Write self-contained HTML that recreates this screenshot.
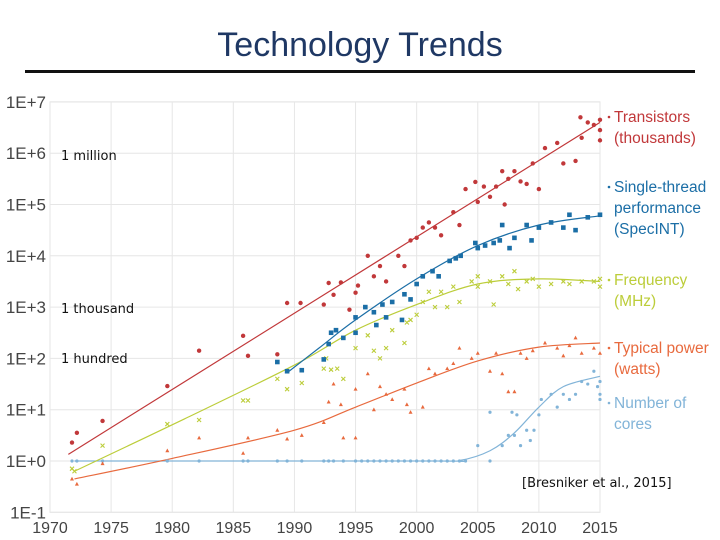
<!DOCTYPE html>
<html><head><meta charset="utf-8"><style>
body{margin:0;width:720px;height:540px;background:#fff;overflow:hidden;font-family:"Liberation Sans",sans-serif}
#title{position:absolute;left:0;width:720px;top:26px;text-align:center;font-size:34px;color:#1f3864}
#rule{position:absolute;left:25px;top:70px;width:670px;height:3px;background:#111}
svg{position:absolute;left:0;top:0}
</style></head><body>
<div id="title">Technology Trends</div>
<div id="rule"></div>
<svg id="chart" width="720" height="540"></svg>
<script>
const yearTicks=[1970,1975,1980,1985,1990,1995,2000,2005,2010,2015];
const decadeTicks=[-1,0,1,2,3,4,5,6,7];
const transistorPts=[[1971.8,0.36],[1972.2,0.55],[1974.3,0.78],[1979.6,1.46],[1982.2,2.15],[1985.8,2.44],[1986.2,2.05],[1988.6,2.08],[1989.4,3.08],[1990.5,3.08],[1992.4,3.05],[1992.8,3.47],[1993.2,3.24],[1993.8,3.48],[1994.5,2.95],[1995,3.28],[1995.2,3.42],[1996,4.0],[1996.5,3.6],[1997,3.8],[1997.5,3.5],[1998.5,4.0],[1999,3.8],[1999.5,4.3],[2000,4.35],[2000.5,4.55],[2001,4.65],[2001.5,4.55],[2002,4.4],[2003,4.85],[2003.5,4.6],[2004,5.3],[2004.8,5.44],[2005,5.05],[2005.5,5.35],[2006,5.15],[2006.5,5.35],[2007,5.65],[2007.2,5.0],[2007.5,5.5],[2008,5.65],[2008.5,5.45],[2009,5.4],[2009.5,5.8],[2010,5.3],[2010.5,6.1],[2011.5,6.2],[2012,5.8],[2013,5.85],[2013.5,6.3],[2013.4,6.7],[2014,6.6],[2014.5,6.55],[2015,6.45],[2015,6.65],[2015,6.25]];
const transistorTrend=[[1971.5,0.13],[2015,6.6]];
const perfPts=[[1988.6,1.93],[1989.4,1.75],[1990.6,1.77],[1992.4,1.98],[1992.8,2.28],[1993,2.5],[1993.4,2.55],[1994,2.4],[1995,2.8],[1995,2.5],[1995.8,3.0],[1996.5,2.9],[1996.7,2.65],[1997.2,3.05],[1997.5,2.8],[1998,3.1],[1998.8,2.75],[1999,3.25],[1999.5,3.15],[2000,3.45],[2000.5,3.6],[2001.3,3.7],[2001.8,3.6],[2002.7,3.9],[2003.2,3.95],[2003.6,4.0],[2004.8,4.25],[2005,4.15],[2005.6,4.2],[2006.3,4.25],[2006.8,4.3],[2007,4.6],[2007.6,4.15],[2008,4.35],[2009,4.6],[2009.4,4.3],[2010,4.55],[2011,4.65],[2012,4.55],[2012.5,4.8],[2013,4.5],[2014,4.75],[2015,4.8]];
const perfTrend=[[1989.4,1.72],[1992,2.2],[1995,2.75],[2000,3.55],[2005,4.2],[2010,4.6],[2015,4.78]];
const freqPts=[[1971.8,-0.15],[1972,-0.2],[1974.3,0.3],[1979.6,0.72],[1982.2,0.8],[1985.8,1.18],[1986.2,1.18],[1988.6,1.6],[1989.4,1.4],[1990.6,1.52],[1992.4,1.8],[1992.6,2.0],[1993,1.78],[1993.5,1.8],[1994,1.6],[1995,2.2],[1996,2.45],[1996.5,2.15],[1997,2.0],[1997.5,2.2],[1998,2.55],[1999,2.3],[1999.2,2.7],[1999.5,2.75],[2000,2.85],[2000.5,3.1],[2001,3.3],[2001.5,3.0],[2002,3.3],[2002.5,3.0],[2003,3.4],[2003.5,3.1],[2004.5,3.5],[2005,3.6],[2005,3.4],[2006,3.5],[2006.3,3.05],[2007,3.6],[2007.5,3.45],[2008,3.7],[2008.3,3.35],[2009,3.5],[2009.5,3.55],[2010,3.4],[2011,3.45],[2012,3.5],[2012.5,3.45],[2013.5,3.5],[2014.5,3.5],[2015,3.4],[2015,3.55]];
const freqTrend=[[1972,-0.2],[1981,0.82],[1990,1.87],[1995,2.55],[2000,3.05],[2005,3.45],[2010,3.55],[2015,3.5]];
const powerPts=[[1971.8,-0.35],[1972.2,-0.45],[1974.3,-0.05],[1979.6,0.2],[1982.2,0.45],[1985.8,0.15],[1986.2,0.45],[1988.6,0.6],[1989.4,0.43],[1990.6,0.5],[1992.4,0.75],[1992.8,1.15],[1993.2,1.5],[1993.8,1.1],[1994,0.45],[1995,1.4],[1995,0.45],[1996,1.7],[1996.5,1.0],[1997,1.45],[1997.5,1.3],[1998,1.2],[1999,1.4],[1999.2,1.1],[1999.5,0.95],[2000.5,1.05],[2001,1.8],[2001.5,1.7],[2002.5,1.8],[2003,1.9],[2003.5,2.2],[2004.5,2.0],[2005,2.1],[2006,1.75],[2006.5,2.1],[2007,1.7],[2007.5,1.35],[2008,1.35],[2008.5,2.1],[2009,2.0],[2009.5,2.15],[2010.5,2.3],[2011.5,2.2],[2012,2.05],[2012.5,2.25],[2013,2.4],[2013.5,2.1],[2014.5,2.2],[2015,2.1]];
const powerTrend=[[1972,-0.35],[1980,0.05],[1990,0.6],[1995,1.05],[2000,1.52],[2005,1.95],[2010,2.22],[2015,2.3]];
const coreYears1=[1971.8,1972.2,1974.3,1979.6,1982.2,1985.8,1986.2,1988.6,1989.4,1990.6,1992.4,1992.8,1993.2,1994,1995,1995.5,1996,1996.5,1997,1997.5,1998,1998.5,1999,1999.5,2000,2000.5,2001,2001.5,2002,2002.5,2003,2003.5,2004,2006];
const corePts=[[2005,0.3],[2006,0.95],[2007,0.3],[2007.5,0.5],[2007.8,0.95],[2008,0.5],[2008.2,0.9],[2008.5,0.3],[2009,0.6],[2009.3,0.4],[2009.6,0.6],[2010,0.9],[2010.2,1.2],[2011,1.3],[2011.5,1.05],[2012,1.3],[2012.5,1.2],[2013,1.3],[2013.5,1.55],[2014,1.5],[2014.5,1.75],[2015,1.55],[2015,1.3],[2014.8,1.45],[2015,1.2]];
const coreTrend=[[1972,0],[2001,0],[2003.5,0.01],[2006,0.2],[2008,0.55],[2010,1.05],[2012,1.45],[2015,1.65]];

const X=y=>50+(y-1970)*12.222;
const Y=l=>461-l*51.3;
const svg=document.getElementById('chart');
const NS='http://www.w3.org/2000/svg';
function mk(t,a){const e=document.createElementNS(NS,t);for(const k in a)e.setAttribute(k,a[k]);svg.appendChild(e);return e;}
mk('rect',{x:50,y:Y(7),width:X(2015)-50,height:Y(-1)-Y(7),fill:'#fff',stroke:'#e3e3e3'});
yearTicks.forEach(t=>{
 const g=mk('line',{x1:X(t),x2:X(t),y1:Y(7),y2:Y(-1),stroke:'#e6e6e6'});
 
 
 const tx=mk('text',{x:X(t),y:533,'text-anchor':'middle','font-size':16,fill:'#444','font-family':'Liberation Sans Narrow, Liberation Sans, sans-serif'});
 tx.textContent=t;
 
 
});
decadeTicks.forEach(d=>{
 const g=mk('line',{x1:50,x2:X(2015),y1:Y(d),y2:Y(d),stroke:'#e6e6e6'});
 
 
 const tx=mk('text',{x:46,y:Y(d)+6,'text-anchor':'end','font-size':17,fill:'#444','font-family':'Liberation Sans Narrow, Liberation Sans, sans-serif'});
 tx.textContent='1E'+(d<0?'-':'+')+Math.abs(d);
 
 
});
function line(arr,c,name){
 const P=arr.map(a=>[X(a[0]),Y(a[1])]);
 let d='M'+P[0][0]+','+P[0][1];
 for(let i=0;i<P.length-1;i++){
  const p0=P[Math.max(0,i-1)],p1=P[i],p2=P[i+1],p3=P[Math.min(P.length-1,i+2)];
  const c1=[p1[0]+(p2[0]-p0[0])/6,p1[1]+(p2[1]-p0[1])/6];
  const c2=[p2[0]-(p3[0]-p1[0])/6,p2[1]-(p3[1]-p1[1])/6];
  d+=` C${c1[0]},${c1[1]} ${c2[0]},${c2[1]} ${p2[0]},${p2[1]}`;
 }
 const p=mk('path',{d:d,fill:'none',stroke:c,'stroke-width':1.2});
 
 }
function pts(arr,c,shape,name){arr.forEach(a=>{const x=X(a[0]),y=Y(a[1]);let e;
 if(shape==='dot')e=mk('circle',{cx:x,cy:y,r:2.2,fill:c});
 else if(shape==='sq')e=mk('rect',{x:x-2.3,y:y-2.3,width:4.6,height:4.6,fill:c});
 else if(shape==='x')e=mk('path',{d:`M${x-2},${y-2}L${x+2},${y+2}M${x-2},${y+2}L${x+2},${y-2}`,stroke:c,'stroke-width':1.1});
 else if(shape==='tri')e=mk('path',{d:`M${x},${y-2.2}L${x+2},${y+1.5}L${x-2},${y+1.5}Z`,fill:c});
 else e=mk('circle',{cx:x,cy:y,r:1.6,fill:c});
 
 });}
const RED='#c1383a',BLUE='#1b6ea6',GREEN='#bccd3a',ORANGE='#e86a3e',LB='#82b4d8';
line(coreTrend,LB,'cores-trend');
line(powerTrend,ORANGE,'power-trend');
line(freqTrend,GREEN,'frequency-trend');
line(perfTrend,BLUE,'performance-trend');
line(transistorTrend,RED,'transistor-trend');
pts(coreYears1.map(y=>[y,0]),LB,'c','cores-point');
pts(corePts,LB,'c','cores-point');
pts(powerPts,ORANGE,'tri','power-point');
pts(freqPts,GREEN,'x','frequency-point');
pts(perfPts,BLUE,'sq','performance-point');
pts(transistorPts,RED,'dot','transistor-point');
const legend=[[RED,['Transistors','(thousands)'],122],[BLUE,['Single-thread','performance','(SpecINT)'],192],[GREEN,['Frequency','(MHz)'],285],[ORANGE,['Typical power','(watts)'],353],[LB,['Number of','cores'],408]];
legend.forEach(([c,lines,y0])=>{
 const m=mk('circle',{cx:609,cy:y0-5,r:1.3,fill:c});
 
 
 lines.forEach((s,i)=>{const t=mk('text',{x:614,y:y0+i*21,'font-size':15.5,fill:c,'font-family':'Liberation Sans Narrow, Liberation Sans, sans-serif'});t.textContent=s;
 
 });
});
[['1 million',160],['1 thousand',313],['1 hundred',363]].forEach(([s,y])=>{const t=mk('text',{x:61,y:y,'font-size':13,fill:'#111','font-family':'DejaVu Sans, sans-serif'});t.textContent=s;
 
 });
const cite=mk('text',{x:522,y:487,'font-size':13,fill:'#111','font-family':'DejaVu Sans, sans-serif'});cite.textContent='[Bresniker et al., 2015]';


</script>
</body></html>
